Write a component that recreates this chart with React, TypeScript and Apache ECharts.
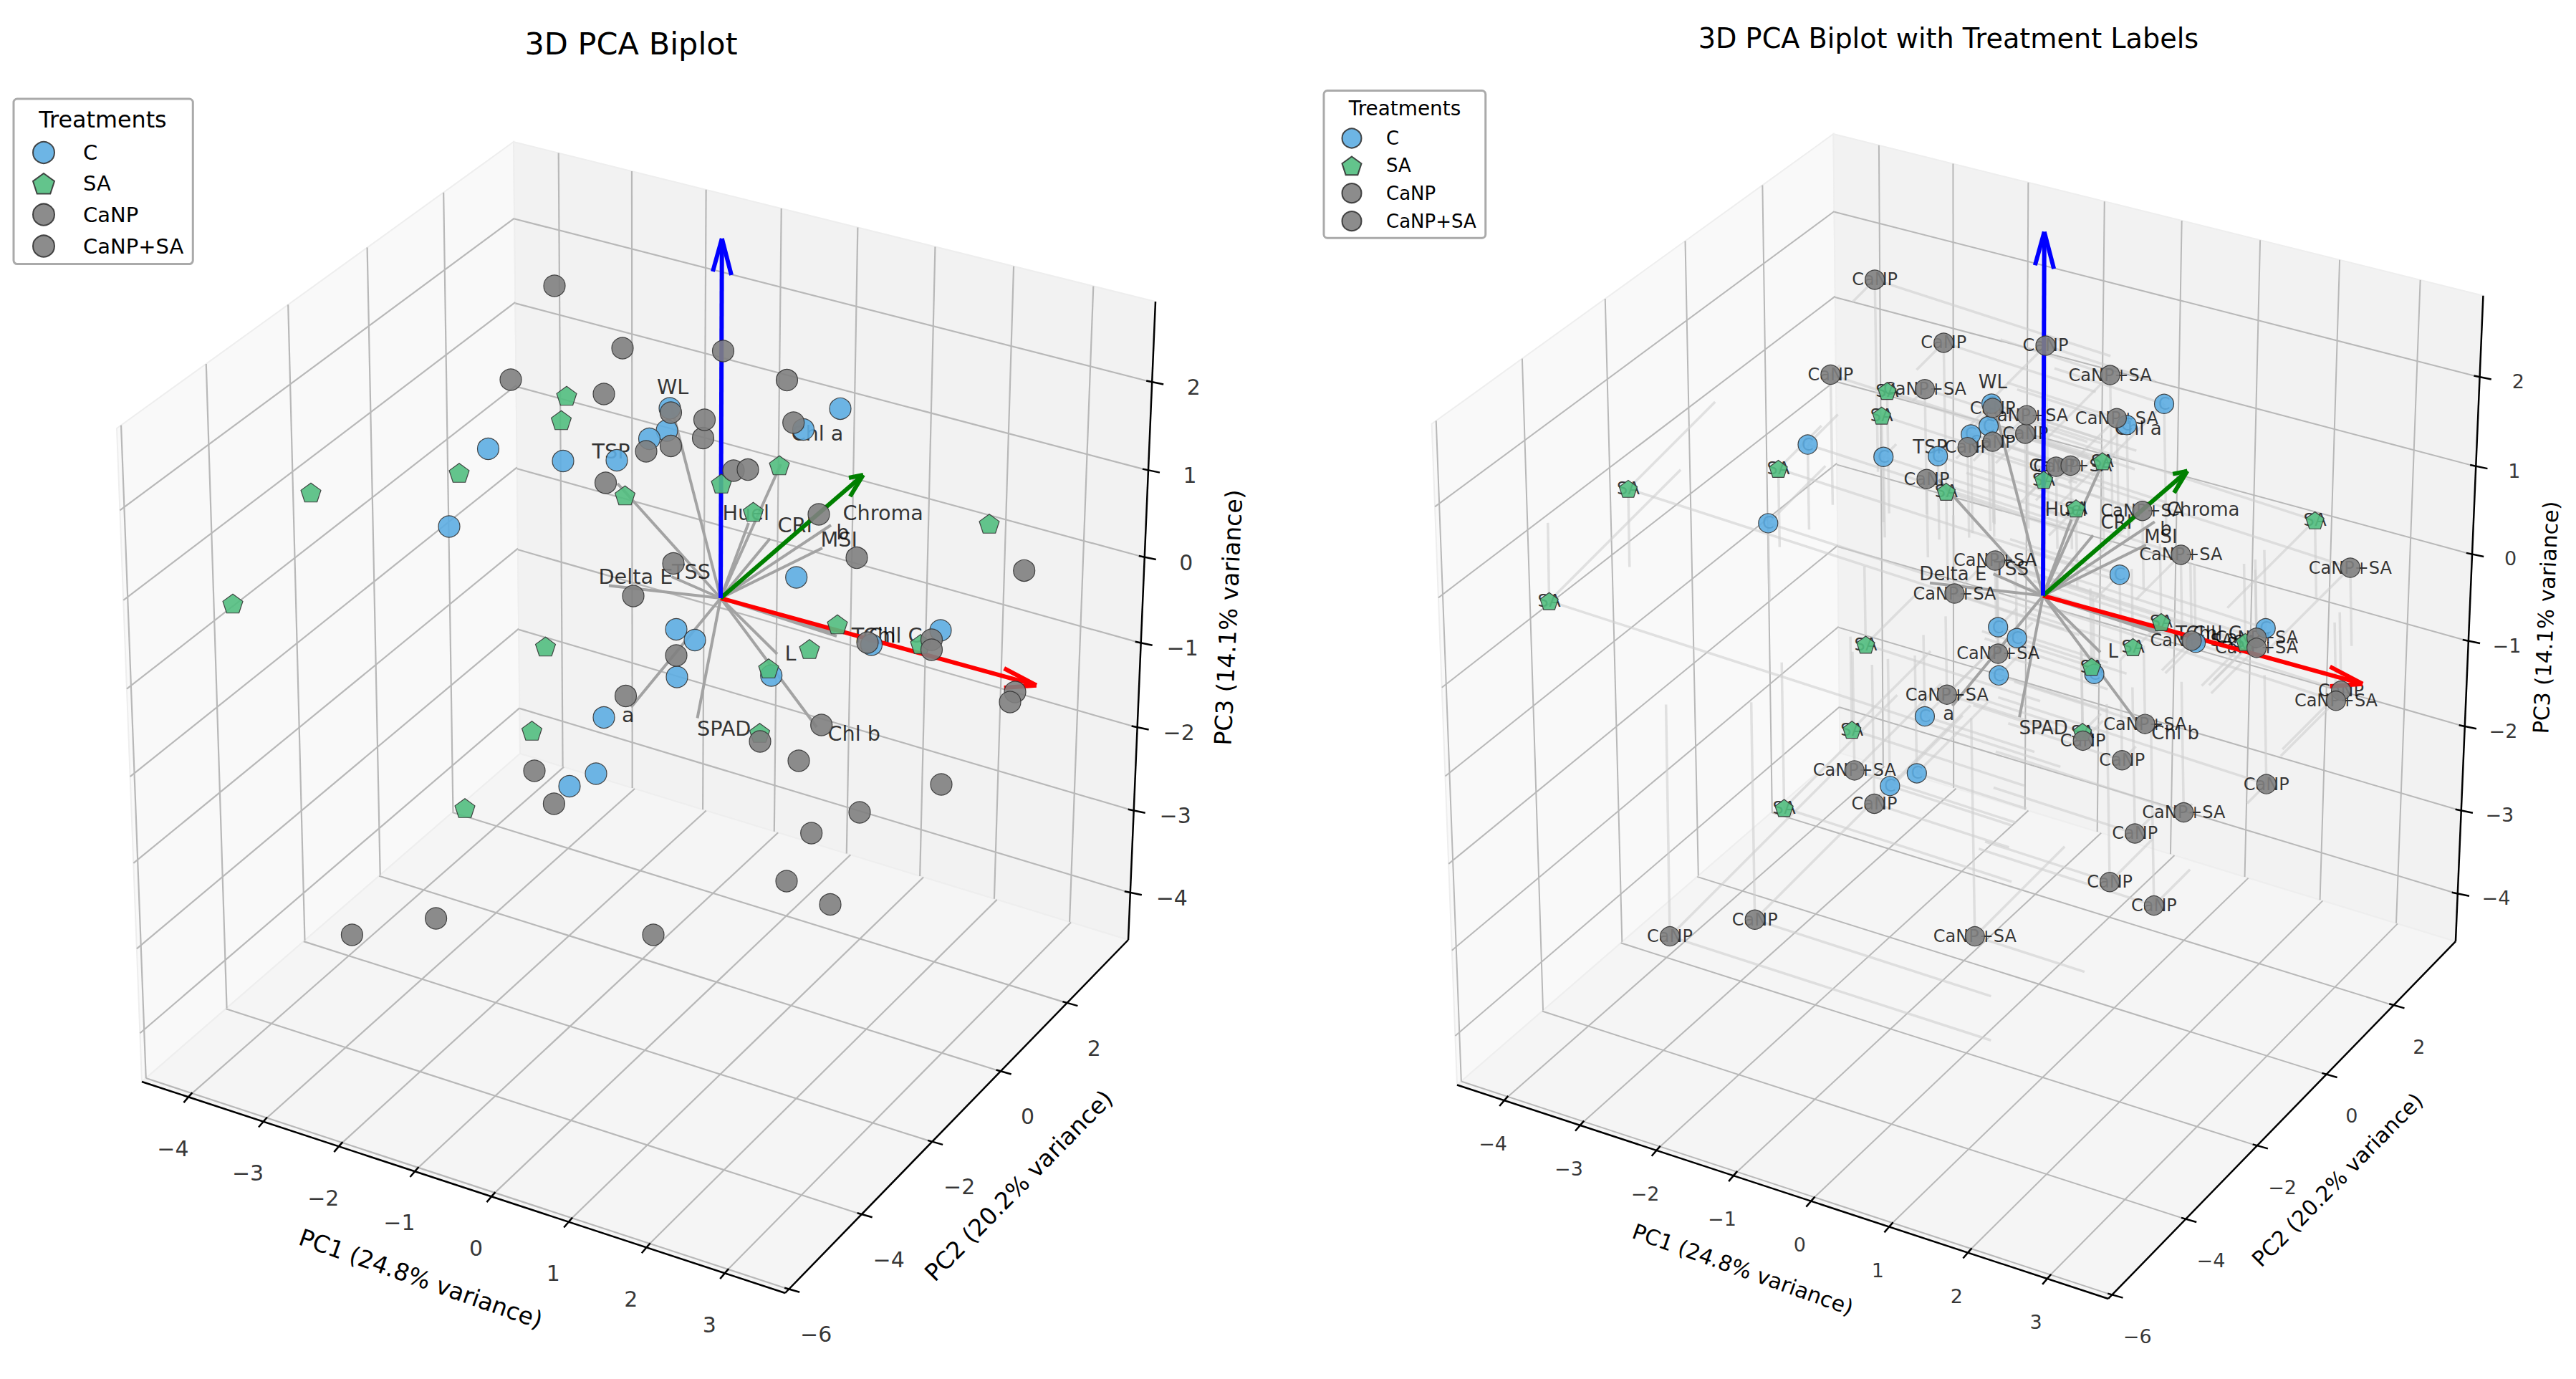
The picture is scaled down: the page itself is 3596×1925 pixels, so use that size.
import React, { useEffect, useRef } from "react";
import * as echarts from "echarts";

type P = [number, number];

const FONT = "DejaVu Sans";

// Score positions, in projected picture units of the left panel
const cPoints: P[] = [
  [681.5, 626.5], [786, 643.5], [861, 642.5], [935, 570], [931, 601], [906.5, 612.5], [627, 735],
  [944, 878.5], [970, 893.5], [945, 945], [843, 1001.5], [832, 1080], [795, 1097.5], [1173, 570.4],
  [1121.5, 599.5], [1111.7, 806], [1313, 880], [1076.7, 943], [1216.5, 900],
];
const saPoints: P[] = [
  [791, 552.5], [783.5, 586.5], [641, 660], [434, 687.5], [872.5, 691.5], [325, 842.5], [761.5, 902.5],
  [742.5, 1020], [1007, 675], [649, 1128], [1088, 649.5], [1051.5, 714.5], [1381, 731], [1169, 871.5],
  [1130, 906], [1073, 933], [1285, 899], [1060.5, 1023],
];
const canpPoints: P[] = [
  [774, 399], [869, 486], [1009.5, 490], [713, 530], [936.5, 576], [981.5, 611.5], [936.5, 622.5],
  [902, 630], [1024, 657], [845.5, 674], [1417, 966], [1061, 1035], [1115, 1062], [1314, 1095],
  [773.4, 1122], [1132.7, 1163], [1098, 1230], [1159, 1262.5], [608.6, 1282], [491.4, 1305],
];
const canpSaPoints: P[] = [
  [843, 550], [1098.5, 530.6], [983.5, 586], [1107.7, 590], [1044, 655.6], [1143, 718], [1196, 778.6],
  [1429.7, 796.4], [940, 786.5], [884, 832], [1211, 897], [1300.5, 893], [1300.5, 907], [1410, 980],
  [944, 915], [873.5, 971.5], [1146.7, 1012], [746, 1076], [1200, 1134], [912, 1305],
];

// Biplot loadings: end of each grey line, and where its label starts
const origin: P = [1006, 835];
const loadingEnds: P[] = [
  [936.5, 565], [862, 675], [1090, 648], [1045, 730], [1075, 751.7], [1160, 733], [1148, 765], [937.5, 805],
  [850, 817.5], [881, 987], [973.5, 1002.5], [1085, 913], [1140, 1015], [1168, 888], [1165, 883],
];
const loadingNames = [
  "WL", "TSP", "Chl a", "Huel", "CRI", "Chroma", "b", "MSI", "TSS", "Delta E", "a", "SPAD", "L", "Chl b", "TChl", "Chl C",
];
const loadingLabelAt: P[] = [
  [916.5, 540], [826, 630], [1104, 604.6], [1008, 716], [1085, 733.3], [1176, 716], [1166.7, 743], [1145, 753],
  [937.5, 797.5], [835, 805], [867.5, 997.5], [972.5, 1017], [1095, 912], [1155, 1024], [1188.3, 887], [1211.7, 887],
];

// The three principal-axis arrows: tip, then the two barbs of the head
const arrowColors = ["#ff0000", "#008000", "#0000ff"];
const arrowTips: P[] = [[1446.7, 956.7], [1205, 663], [1007.8, 333]];
const arrowBarbs: [P, P][] = [
  [[1401.7, 933], [1401.7, 960]],
  [[1186.7, 693], [1185, 667]],
  [[995, 379], [1021, 384]],
];

// Axes
const xTicks = [-4, -3, -2, -1, 0, 1, 2, 3];
const yTicks = [-6, -4, -2, 0, 2];
const zTicks = [-4, -3, -2, -1, 0, 1, 2];
const xLim: P = [-4.62, 3.77];
const yLim: P = [-6.1, 3.9];
const zLim: P = [-4.58, 2.9];

const treatments = ["C", "SA", "CaNP", "CaNP+SA"];
const treatmentColors = ["#5DADE2", "#52BE80", "#808080", "#808080"];
const PENTAGON = "path://M0,-1 L0.951,-0.309 L0.588,0.809 L-0.588,0.809 L-0.951,-0.309 Z";
const treatmentSymbols = ["circle", PENTAGON, "circle", "circle"];
const treatmentScale = [1, 0.93, 1, 1];
const treatmentPoints = [cPoints, saPoints, canpPoints, canpSaPoints];

// Box corners of the 3D frame
const Ltop: P = [163, 598];
const Lbot: P = [198, 1510];
const Btop: P = [717, 198];
const Bbot: P = [726, 1052];
const Rtop: P = [1613, 421];
const Rbot: P = [1575, 1312];
const Fbot: P = [1096, 1805];

function quad(p00: P, p10: P, p11: P, p01: P) {
  const sx = p00[0] - p10[0] + p11[0] - p01[0];
  const sy = p00[1] - p10[1] + p11[1] - p01[1];
  const dx1 = p10[0] - p11[0], dx2 = p01[0] - p11[0], dy1 = p10[1] - p11[1], dy2 = p01[1] - p11[1];
  const den = dx1 * dy2 - dx2 * dy1;
  const g = (sx * dy2 - dx2 * sy) / den;
  const h = (dx1 * sy - sx * dy1) / den;
  const a = p10[0] - p00[0] + g * p10[0], b = p01[0] - p00[0] + h * p01[0], c = p00[0];
  const d = p10[1] - p00[1] + g * p10[1], e = p01[1] - p00[1] + h * p01[1], f = p00[1];
  return (u: number, v: number): P => {
    const w = g * u + h * v + 1;
    return [(a * u + b * v + c) / w, (d * u + e * v + f) / w];
  };
}
const floorFace = quad(Lbot, Fbot, Rbot, Bbot);
const leftFace = quad(Lbot, Bbot, Btop, Ltop);
const rightFace = quad(Bbot, Rbot, Rtop, Btop);
const fx = (v: number) => (v - xLim[0]) / (xLim[1] - xLim[0]);
const fy = (v: number) => (v - yLim[0]) / (yLim[1] - yLim[0]);
const fz = (v: number) => (v - zLim[0]) / (zLim[1] - zLim[0]);
const fmt = (v: number) => (v < 0 ? "\u2212" + Math.abs(v) : String(v));
const seg = (a: P, b: P) => ({ coords: [a, b] });

// Faint guide lines: from each score part of the way back towards the centre planes
const EX: P = [108, 35];
const EY: P = [52, -52];
const EZ: P = [-2, -120];
function guideSegments(p: P) {
  const dx = p[0] - origin[0], dy = p[1] - origin[1];
  const m11 = EX[0] ** 2 + EY[0] ** 2 + EZ[0] ** 2;
  const m12 = EX[0] * EX[1] + EY[0] * EY[1] + EZ[0] * EZ[1];
  const m22 = EX[1] ** 2 + EY[1] ** 2 + EZ[1] ** 2;
  const det = m11 * m22 - m12 * m12;
  const a = (dx * m22 - dy * m12) / det;
  const b = (dy * m11 - dx * m12) / det;
  const X = EX[0] * a + EX[1] * b, Y = EY[0] * a + EY[1] * b, Z = EZ[0] * a + EZ[1] * b;
  const go = (e: P, k: number): P => [p[0] - e[0] * k, p[1] - e[1] * k];
  const kz = Math.sign(Z || 1) * Math.max(Math.abs(Z) * 0.8, 0.9);
  const kx = Math.sign(X || 1) * Math.max(Math.abs(X) * 1.3, 1.4);
  return [seg(p, go(EX, kx)), seg(p, go(EY, Y * 1.3)), seg(p, go(EZ, kz))];
}

function linesSeries(g: number, data: any[], color: string, width: number, z: number, opacity = 1) {
  return {
    type: "lines", coordinateSystem: "cartesian2d", xAxisIndex: g, yAxisIndex: g, polyline: false,
    silent: true, z, data, lineStyle: { color, width, opacity, curveness: 0, cap: "butt" },
  };
}

function textSeries(g: number, items: { value: P; name: string }[], size: number, z: number, position: string, offset: P) {
  return {
    type: "scatter", coordinateSystem: "cartesian2d", xAxisIndex: g, yAxisIndex: g, silent: true, z,
    symbolSize: 1, itemStyle: { color: "transparent" }, data: items,
    label: {
      show: true, position, distance: 0, offset, color: "#000", fontFamily: FONT, fontSize: size,
      formatter: (p: any) => p.name,
    },
    labelLayout: { hideOverlap: false },
  };
}

function panelSeries(g: number, cfg: any) {
  const panes = [
    { pts: [Lbot, Bbot, Btop, Ltop], fill: "#f9f9f9" },
    { pts: [Bbot, Rbot, Rtop, Btop], fill: "#f2f2f2" },
    { pts: [Lbot, Fbot, Rbot, Bbot], fill: "#f5f5f5" },
  ];
  const series: any[] = [];
  series.push({
    type: "custom", coordinateSystem: "cartesian2d", xAxisIndex: g, yAxisIndex: g, silent: true, z: 0,
    data: panes.map((_, i) => [i]), encode: { x: 0, y: 0 }, clip: false,
    renderItem: (params: any, api: any) => {
      const pane = panes[params.dataIndex];
      return {
        type: "polygon",
        shape: { points: pane.pts.map((q) => api.coord(q)) },
        style: { fill: pane.fill, stroke: "#eeeeee", lineWidth: 2 },
      };
    },
  });

  // grid lines on the floor and both walls
  const grid: any[] = [];
  xTicks.forEach((t) => {
    const u = fx(t);
    grid.push(seg(floorFace(u, 0), floorFace(u, 1)));
    grid.push(seg(rightFace(u, 0), rightFace(u, 1)));
  });
  yTicks.forEach((t) => {
    const v = fy(t);
    grid.push(seg(floorFace(0, v), floorFace(1, v)));
    grid.push(seg(leftFace(v, 0), leftFace(v, 1)));
  });
  zTicks.forEach((t) => {
    const w = fz(t);
    grid.push(seg(leftFace(0, w), leftFace(1, w)));
    grid.push(seg(rightFace(0, w), rightFace(1, w)));
  });
  series.push(linesSeries(g, grid, "#b8b8b8", cfg.gridWidth, 1));

  // axis lines and ticks
  const axis: any[] = [seg(Lbot, Fbot), seg(Fbot, Rbot), seg(Rbot, Rtop)];
  const tickText: { value: P; name: string }[] = [];
  xTicks.forEach((t) => {
    const p = floorFace(fx(t), 0);
    axis.push(seg([p[0] - 6, p[1] + 8], [p[0] + 6, p[1] - 6]));
    tickText.push({ value: [p[0] + cfg.xOff[0], p[1] + cfg.xOff[1]], name: fmt(t) });
  });
  yTicks.forEach((t) => {
    const p = floorFace(1, fy(t));
    axis.push(seg([p[0] - 6, p[1] - 2], [p[0] + 15, p[1] + 4]));
    tickText.push({ value: [p[0] + cfg.yOff[0], p[1] + cfg.yOff[1]], name: fmt(t) });
  });
  zTicks.forEach((t) => {
    const p = rightFace(1, fz(t));
    axis.push(seg([p[0] - 8, p[1] - 2], [p[0] + 16, p[1] + 3]));
    tickText.push({ value: [p[0] + cfg.zOff[0], p[1] + cfg.zOff[1]], name: fmt(t) });
  });
  series.push(linesSeries(g, axis, "#000000", 2.5, 2));
  series.push(textSeries(g, tickText, cfg.tickSize, 2, "inside", [0, 0]));

  if (cfg.guides) {
    const guides = treatmentPoints.flat().flatMap(guideSegments);
    series.push(linesSeries(g, guides, "#cfcfcf", 3.5, 2, 0.6));
  }

  // loadings and their names
  series.push(linesSeries(g, loadingEnds.map((e) => seg(origin, e)), "#a3a3a3", 4, 3));
  series.push(
    textSeries(
      g,
      loadingNames.map((n, i) => ({ value: loadingLabelAt[i], name: n })),
      cfg.varSize, 4, "right", [0, 0],
    ),
  );

  // principal-axis arrows
  arrowTips.forEach((tip, i) => {
    const data = [seg(origin, tip), seg(arrowBarbs[i][0], tip), seg(arrowBarbs[i][1], tip)];
    series.push(linesSeries(g, data, arrowColors[i], 6, 5));
  });

  // point labels (behind the points) for the right panel
  if (cfg.pointLabels) {
    treatments.forEach((name, i) => {
      series.push(
        textSeries(g, treatmentPoints[i].map((p) => ({ value: p, name })), cfg.pointLabelSize, 4, "inside", [0, -8]),
      );
    });
  }

  // the scores
  treatments.forEach((name, i) => {
    series.push({
      name, type: "scatter", coordinateSystem: "cartesian2d", xAxisIndex: g, yAxisIndex: g, z: 6 + i,
      symbol: treatmentSymbols[i], symbolSize: cfg.markerSize * treatmentScale[i], symbolKeepAspect: true,
      data: treatmentPoints[i],
      itemStyle: { color: treatmentColors[i], opacity: 0.9, borderColor: "#333333", borderWidth: 1.2 },
    });
  });
  return series;
}

function axisTitle(text: string, x: number, y: number, deg: number, size: number) {
  return {
    type: "text", x, y, rotation: (deg * Math.PI) / 180, z: 30, silent: true,
    style: { text, fill: "#000", font: `${size}px "${FONT}"`, textAlign: "center", textVerticalAlign: "middle" },
  };
}

function legendOf(left: number, top: number, icon: number, gap: number, size: number, pad: number[], textPad: number) {
  return {
    orient: "vertical", left, top, data: treatments, selectedMode: false, z: 20,
    itemWidth: icon, itemHeight: icon, itemGap: gap, padding: pad,
    backgroundColor: "rgba(255,255,255,0.8)", borderColor: "#aaaaaa", borderWidth: 3, borderRadius: 5,
    textStyle: { fontFamily: FONT, fontSize: size, color: "#000", padding: [0, 0, 0, textPad] },
  };
}

export default function App() {
  const ref = useRef<HTMLDivElement>(null);
  useEffect(() => {
    const chart = echarts.init(ref.current!, undefined, { renderer: "svg" });
    const axX = (i: number) => ({ gridIndex: i, type: "value", min: 0, max: 1700, show: false });
    const axY = (i: number) => ({ gridIndex: i, type: "value", min: 100, max: 1900, inverse: true, show: false });
    chart.setOption({
      animation: false,
      backgroundColor: "#ffffff",
      title: [
        { text: "3D PCA Biplot", left: 876, top: 34, textAlign: "center", textStyle: { fontFamily: FONT, fontSize: 43, fontWeight: "normal", color: "#000" } },
        { text: "3D PCA Biplot with Treatment Labels", left: 2715, top: 30, textAlign: "center", textStyle: { fontFamily: FONT, fontSize: 38.2, fontWeight: "normal", color: "#000" } },
      ],
      legend: [
        legendOf(19, 138, 30, 12, 29, [59, 13, 9, 26], 35),
        legendOf(1848, 126.5, 27, 10, 26, [52, 13, 9, 24.5], 29.5),
      ],
      grid: [
        { left: 0, top: 100, width: 1700, height: 1800, containLabel: false },
        { left: 1833.6, top: 87.9, width: 1720.9, height: 1821.2, containLabel: false },
      ],
      xAxis: [axX(0), axX(1)],
      yAxis: [axY(0), axY(1)],
      series: [
        ...panelSeries(0, {
          gridWidth: 2.2, tickSize: 30, varSize: 28.7, markerSize: 30, guides: false, pointLabels: false,
          xOff: [-21, 72], yOff: [38, 63], zOff: [58, 7],
        }),
        ...panelSeries(1, {
          gridWidth: 2, tickSize: 27, varSize: 26, markerSize: 27, guides: true, pointLabels: true, pointLabelSize: 24,
          xOff: [-15, 60], yOff: [35, 57], zOff: [53, 6],
        }),
      ],
      graphic: [
        axisTitle("Treatments", 143.5, 166, 0, 31.8),
        axisTitle("Treatments", 1961, 151, 0, 27.9),
        axisTitle("PC1 (24.8% variance)", 587.5, 1785, -19.3, 33),
        axisTitle("PC2 (20.2% variance)", 1422, 1655, 45.5, 33),
        axisTitle("PC3 (14.1% variance)", 1715, 862, 87.4, 33),
        axisTitle("PC1 (24.8% variance)", 2433, 1772, -19.6, 30),
        axisTitle("PC2 (20.2% variance)", 3263, 1647, 45.5, 30),
        axisTitle("PC3 (14.1% variance)", 3554, 862, 87.4, 30),
      ],
    });
    return () => chart.dispose();
  }, []);
  return <div ref={ref} style={{ position: "absolute", left: 0, top: 0, width: 3596, height: 1925 }} />;
}
